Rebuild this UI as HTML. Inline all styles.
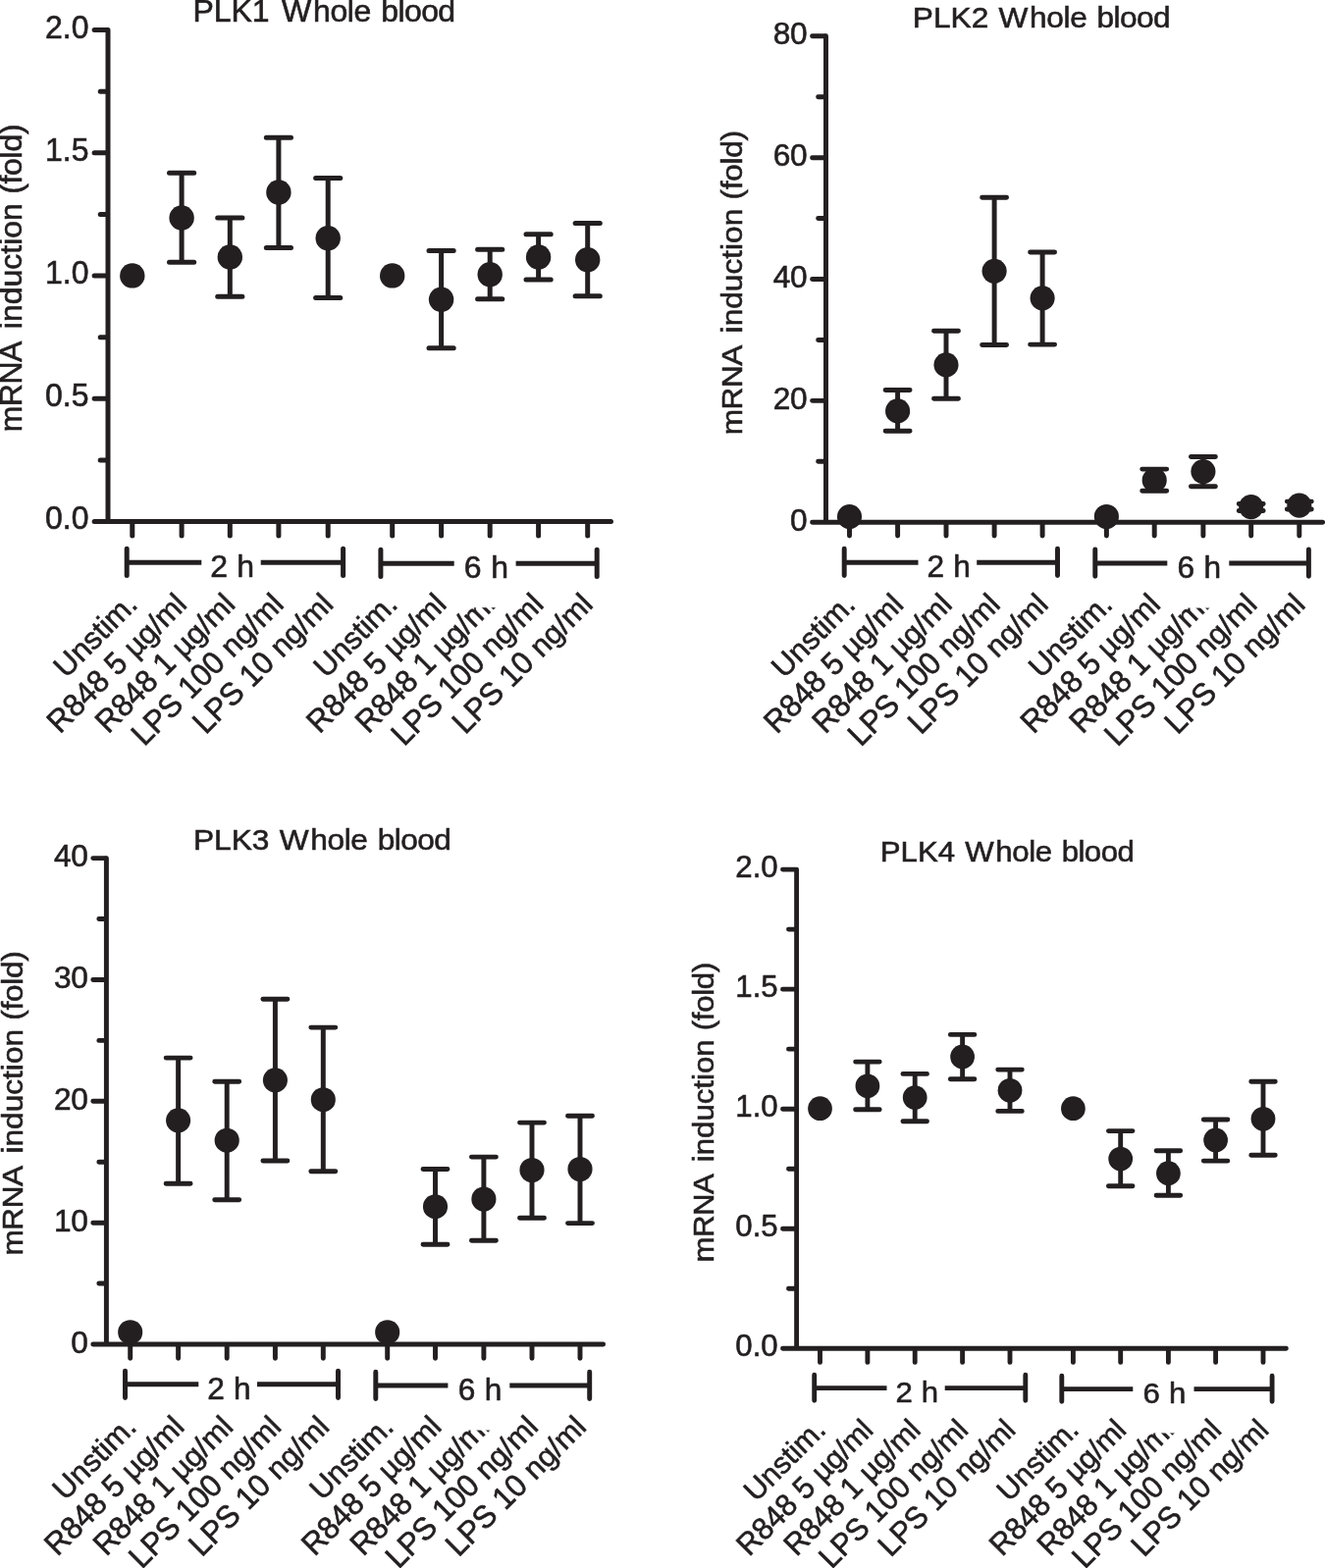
<!DOCTYPE html>
<html lang="en">
<head>
<meta charset="utf-8">
<title>PLK mRNA induction in whole blood</title>
<style>
html,body{margin:0;padding:0;background:#fff;}
body{width:1350px;height:1598px;overflow:hidden;}
svg{display:block;}
.t{font-family:"Liberation Sans",Arial,Helvetica,sans-serif;font-size:32px;fill:#231f20;}
.ln{fill:none;stroke:#231f20;stroke-width:5.0;stroke-linecap:round;stroke-linejoin:round;}
.bt{stroke-linecap:butt;}
.t{stroke:#231f20;stroke-width:0.6px;}
.t2{letter-spacing:-0.4px;}
circle{fill:#231f20;}
#p1 .t{font-size:32px;}#p1 .xl{font-size:31px;}#p1 .ln{stroke-width:5;}
#p2 .t{font-size:31.65px;}#p2 .xl{font-size:31px;}#p2 .ln{stroke-width:4.95;}
#p3 .t{font-size:31.65px;}#p3 .xl{font-size:31px;}#p3 .ln{stroke-width:4.95;}
#p4 .t{font-size:31.19px;}#p4 .xl{font-size:30.35px;}#p4 .ln{stroke-width:4.87;}
</style>
</head>
<body>
<svg width="1350" height="1598" viewBox="0 0 1350 1598">
<rect width="1350" height="1598" fill="#ffffff"/>
<g class="panel" id="p1">
<text class="t title" transform="translate(330 22.2) scale(1 0.96)" text-anchor="middle">PLK1 <tspan dx="3.5 2.07" letter-spacing="-0.37">Whole</tspan> <tspan dx="1.3" letter-spacing="-0.57">blood</tspan></text>
<text class="t ylab" transform="translate(22.4 283.5) rotate(-90) scale(1 0.96)" text-anchor="middle"><tspan letter-spacing="-0.5">mRNA</tspan> <tspan dx="4">induction</tspan> <tspan dx="0.4" letter-spacing="-0.3">(fold)</tspan></text>
<path class="ln" d="M110 30.6V531.5M96.1 531.5H622.5"/>
<path class="ln" d="M96.1 30.6H109M102.2 93.21H109M96.1 155.82H109M102.2 218.44H109M96.1 281.05H109M102.2 343.66H109M96.1 406.27H109M102.2 468.89H109M134.8 532.5V545.9M185.1 532.5V545.9M234.3 532.5V545.9M283.9 532.5V545.9M334.2 532.5V545.9M399.7 532.5V545.9M449.6 532.5V545.9M499.2 532.5V545.9M548.6 532.5V545.9M598.7 532.5V545.9"/>
<text class="t tick" transform="translate(90.5 38.5) scale(1 1.04)" text-anchor="end">2.0</text>
<text class="t tick" transform="translate(90.5 163.72) scale(1 1.04)" text-anchor="end">1.5</text>
<text class="t tick" transform="translate(90.5 288.95) scale(1 1.04)" text-anchor="end">1.0</text>
<text class="t tick" transform="translate(90.5 414.17) scale(1 1.04)" text-anchor="end">0.5</text>
<text class="t tick" transform="translate(90.5 539.4) scale(1 1.04)" text-anchor="end">0.0</text>
<path class="ln" d="M129.2 559.3V586.6M349.6 559.3V586.6M387.9 560.3V587.6M608.2 560.3V587.6"/>
<path class="ln bt" d="M129.2 573.3H205.3M265.7 573.3H349.6M387.9 574.3H462.7M525.6 574.3H608.2"/>
<text class="t br" transform="translate(236.7 588.4) scale(1 0.97)" text-anchor="middle">2 <tspan dx="0.4">h</tspan></text>
<text class="t br" transform="translate(495.35 589.4) scale(1 0.97)" text-anchor="middle">6 <tspan dx="0.7">h</tspan></text>
<path class="ln" d="M185.1 176.3V267.3M172.5 176.3H197.7M172.5 267.3H197.7M234.3 221.9V302.3M221.7 221.9H246.9M221.7 302.3H246.9M283.9 140.3V252.6M271.3 140.3H296.5M271.3 252.6H296.5M334.2 181.4V303.5M321.6 181.4H346.8M321.6 303.5H346.8M449.6 255.4V354.7M437 255.4H462.2M437 354.7H462.2M499.2 254.2V304.8M486.6 254.2H511.8M486.6 304.8H511.8M548.6 238.8V284.9M536 238.8H561.2M536 284.9H561.2M598.7 227.5V301.8M586.1 227.5H611.3M586.1 301.8H611.3"/>
<circle cx="134.8" cy="280.9" r="12.7"/>
<circle cx="185.1" cy="221.9" r="12.7"/>
<circle cx="234.3" cy="262" r="12.7"/>
<circle cx="283.9" cy="196" r="12.7"/>
<circle cx="334.2" cy="242.8" r="12.7"/>
<circle cx="399.7" cy="280.9" r="12.7"/>
<circle cx="449.6" cy="305.3" r="12.7"/>
<circle cx="499.2" cy="279.8" r="12.7"/>
<circle cx="548.6" cy="262" r="12.7"/>
<circle cx="598.7" cy="264.7" r="12.7"/>
<text class="t xl" transform="translate(141.6 617.6) rotate(-45)" text-anchor="end">Unstim.</text>
<text class="t xl" transform="translate(191.9 617.6) rotate(-45) translate(-85.04 0) scale(1 1.04)" text-anchor="end">R848 5</text>
<text class="t xl" transform="translate(191.9 617.6) rotate(-45) scale(1 0.985)" text-anchor="end">µg/ml</text>
<text class="t xl" transform="translate(241.1 617.6) rotate(-45) translate(-85.04 0) scale(1 1.04)" text-anchor="end">R848 1</text>
<text class="t xl" transform="translate(241.1 617.6) rotate(-45) scale(1 0.985)" text-anchor="end">µg/ml</text>
<text class="t xl" transform="translate(290.7 617.6) rotate(-45) translate(-84.42 0) scale(1 1.04)" text-anchor="end">LPS 100</text>
<text class="t xl" transform="translate(290.7 617.6) rotate(-45) scale(1 0.985)" text-anchor="end">ng/ml</text>
<text class="t xl" transform="translate(341 617.6) rotate(-45) translate(-84.42 0) scale(1 1.04)" text-anchor="end">LPS 10</text>
<text class="t xl" transform="translate(341 617.6) rotate(-45) scale(1 0.985)" text-anchor="end">ng/ml</text>
<text class="t xl" transform="translate(406.5 617.6) rotate(-45)" text-anchor="end">Unstim.</text>
<text class="t xl" transform="translate(456.4 617.6) rotate(-45) translate(-85.04 0) scale(1 1.04)" text-anchor="end">R848 5</text>
<text class="t xl" transform="translate(456.4 617.6) rotate(-45) scale(1 0.985)" text-anchor="end">µg/ml</text>
<text class="t xl" transform="translate(506 617.6) rotate(-45) translate(-85.04 0) scale(1 1.04)" text-anchor="end">R848 1</text>
<text class="t xl" transform="translate(506 617.6) rotate(-45) scale(1 0.985)" text-anchor="end">µg/ml</text>
<rect x="473.2" y="593.6" width="39" height="25.6" fill="#ffffff"/>
<text class="t xl" transform="translate(555.4 617.6) rotate(-45) translate(-84.42 0) scale(1 1.04)" text-anchor="end">LPS 100</text>
<text class="t xl" transform="translate(555.4 617.6) rotate(-45) scale(1 0.985)" text-anchor="end">ng/ml</text>
<text class="t xl" transform="translate(605.5 617.6) rotate(-45) translate(-84.42 0) scale(1 1.04)" text-anchor="end">LPS 10</text>
<text class="t xl" transform="translate(605.5 617.6) rotate(-45) scale(1 0.985)" text-anchor="end">ng/ml</text>
</g>
<g class="panel" id="p2">
<text class="t title" transform="translate(1061 28.1) scale(1 0.96)" text-anchor="middle">PLK2 <tspan dx="1.48 2.05" letter-spacing="-0.37">Whole</tspan> <tspan dx="1.29" letter-spacing="-0.56">blood</tspan></text>
<text class="t ylab" transform="translate(755.9 288.3) rotate(-90) scale(1 0.96)" text-anchor="middle"><tspan letter-spacing="-0.49">mRNA</tspan> <tspan dx="3.96">induction</tspan> <tspan dx="0.4" letter-spacing="-0.3">(fold)</tspan></text>
<path class="ln" d="M841.5 36.8V532.2M827.6 532.2H1347.6"/>
<path class="ln" d="M827.6 36.8H840.5M833.63 98.72H840.5M827.6 160.65H840.5M833.63 222.58H840.5M827.6 284.5H840.5M833.63 346.43H840.5M827.6 408.35H840.5M833.63 470.28H840.5M865.5 533.2V546.1M914.6 533.2V546.1M964 533.2V546.1M1013.1 533.2V546.1M1062.1 533.2V546.1M1127.4 533.2V546.1M1176.2 533.2V546.1M1225.9 533.2V546.1M1274.7 533.2V546.1M1323.8 533.2V546.1"/>
<text class="t tick t2" transform="translate(822.26 45.31) scale(1 1.02)" text-anchor="end">80</text>
<text class="t tick t2" transform="translate(822.26 169.16) scale(1 1.02)" text-anchor="end">60</text>
<text class="t tick t2" transform="translate(822.26 293.01) scale(1 1.02)" text-anchor="end">40</text>
<text class="t tick t2" transform="translate(822.26 416.86) scale(1 1.02)" text-anchor="end">20</text>
<text class="t tick" transform="translate(822.66 540.71) scale(1 1.02)" text-anchor="end">0</text>
<path class="ln" d="M860.2 559.3V586.6M1077.5 559.3V586.6M1115.8 560V587.3M1333.4 560V587.3"/>
<path class="ln bt" d="M860.2 573.3H935.5M995.2 573.3H1077.5M1115.8 574H1189.3M1252.3 574H1333.4"/>
<text class="t br" transform="translate(966.7 588.4) scale(1 0.97)" text-anchor="middle">2 <tspan dx="0.4">h</tspan></text>
<text class="t br" transform="translate(1221.85 589.1) scale(1 0.97)" text-anchor="middle">6 <tspan dx="0.69">h</tspan></text>
<path class="ln" d="M914.6 397.5V439.3M902.14 397.5H927.06M902.14 439.3H927.06M964 337.3V406.3M951.54 337.3H976.46M951.54 406.3H976.46M1013.1 201.3V351.4M1000.64 201.3H1025.56M1000.64 351.4H1025.56M1062.1 256.9V351.1M1049.64 256.9H1074.56M1049.64 351.1H1074.56M1176.2 478.1V500.3M1163.74 478.1H1188.66M1163.74 500.3H1188.66M1225.9 465.5V495.7M1213.44 465.5H1238.36M1213.44 495.7H1238.36M1274.7 513.4V520.4M1262.24 513.4H1287.16M1262.24 520.4H1287.16M1323.8 511.1V518.9M1311.34 511.1H1336.26M1311.34 518.9H1336.26"/>
<circle cx="865.5" cy="526.6" r="12.56"/>
<circle cx="914.6" cy="418.9" r="12.56"/>
<circle cx="964" cy="371.8" r="12.56"/>
<circle cx="1013.1" cy="276.3" r="12.56"/>
<circle cx="1062.1" cy="303.8" r="12.56"/>
<circle cx="1127.4" cy="526.5" r="12.56"/>
<circle cx="1176.2" cy="489.4" r="12.56"/>
<circle cx="1225.9" cy="480.6" r="12.56"/>
<circle cx="1274.7" cy="516.6" r="12.56"/>
<circle cx="1323.8" cy="515.1" r="12.56"/>
<text class="t xl" transform="translate(873.1 618) rotate(-45)" text-anchor="end">Unstim.</text>
<text class="t xl" transform="translate(922.2 618) rotate(-45) translate(-85.04 0) scale(1 1.04)" text-anchor="end">R848 5</text>
<text class="t xl" transform="translate(922.2 618) rotate(-45) scale(1 0.985)" text-anchor="end">µg/ml</text>
<text class="t xl" transform="translate(971.6 618) rotate(-45) translate(-85.04 0) scale(1 1.04)" text-anchor="end">R848 1</text>
<text class="t xl" transform="translate(971.6 618) rotate(-45) scale(1 0.985)" text-anchor="end">µg/ml</text>
<text class="t xl" transform="translate(1020.7 618) rotate(-45) translate(-84.42 0) scale(1 1.04)" text-anchor="end">LPS 100</text>
<text class="t xl" transform="translate(1020.7 618) rotate(-45) scale(1 0.985)" text-anchor="end">ng/ml</text>
<text class="t xl" transform="translate(1069.7 618) rotate(-45) translate(-84.42 0) scale(1 1.04)" text-anchor="end">LPS 10</text>
<text class="t xl" transform="translate(1069.7 618) rotate(-45) scale(1 0.985)" text-anchor="end">ng/ml</text>
<text class="t xl" transform="translate(1135 618) rotate(-45)" text-anchor="end">Unstim.</text>
<text class="t xl" transform="translate(1183.8 618) rotate(-45) translate(-85.04 0) scale(1 1.04)" text-anchor="end">R848 5</text>
<text class="t xl" transform="translate(1183.8 618) rotate(-45) scale(1 0.985)" text-anchor="end">µg/ml</text>
<text class="t xl" transform="translate(1233.5 618) rotate(-45) translate(-85.04 0) scale(1 1.04)" text-anchor="end">R848 1</text>
<text class="t xl" transform="translate(1233.5 618) rotate(-45) scale(1 0.985)" text-anchor="end">µg/ml</text>
<rect x="1200.19" y="594.26" width="38.57" height="25.32" fill="#ffffff"/>
<text class="t xl" transform="translate(1282.3 618) rotate(-45) translate(-84.42 0) scale(1 1.04)" text-anchor="end">LPS 100</text>
<text class="t xl" transform="translate(1282.3 618) rotate(-45) scale(1 0.985)" text-anchor="end">ng/ml</text>
<text class="t xl" transform="translate(1331.4 618) rotate(-45) translate(-84.42 0) scale(1 1.04)" text-anchor="end">LPS 10</text>
<text class="t xl" transform="translate(1331.4 618) rotate(-45) scale(1 0.985)" text-anchor="end">ng/ml</text>
</g>
<g class="panel" id="p3">
<text class="t title" transform="translate(328.1 865.6) scale(1 0.96)" text-anchor="middle">PLK3 <tspan dx="1.48 2.05" letter-spacing="-0.37">Whole</tspan> <tspan dx="1.29" letter-spacing="-0.56">blood</tspan></text>
<text class="t ylab" transform="translate(22.7 1124.5) rotate(-90) scale(1 0.96)" text-anchor="middle"><tspan letter-spacing="-0.49">mRNA</tspan> <tspan dx="3.96">induction</tspan> <tspan dx="0.4" letter-spacing="-0.3">(fold)</tspan></text>
<path class="ln" d="M108.4 874.6V1370M94.8 1370H614.6"/>
<path class="ln" d="M94.8 874.6H107.4M100.83 936.52H107.4M94.8 998.45H107.4M100.83 1060.38H107.4M94.8 1122.3H107.4M100.83 1184.22H107.4M94.8 1246.15H107.4M100.83 1308.08H107.4M132.7 1371V1384.2M181.6 1371V1384.2M231.2 1371V1384.2M280.4 1371V1384.2M329.3 1371V1384.2M394.7 1371V1384.2M443.5 1371V1384.2M492.9 1371V1384.2M542 1371V1384.2M591 1371V1384.2"/>
<text class="t tick t2" transform="translate(89.36 883.11) scale(1 1.02)" text-anchor="end">40</text>
<text class="t tick t2" transform="translate(89.36 1006.96) scale(1 1.02)" text-anchor="end">30</text>
<text class="t tick t2" transform="translate(89.36 1130.81) scale(1 1.02)" text-anchor="end">20</text>
<text class="t tick t2" transform="translate(89.36 1254.66) scale(1 1.02)" text-anchor="end">10</text>
<text class="t tick" transform="translate(89.76 1378.51) scale(1 1.02)" text-anchor="end">0</text>
<path class="ln" d="M127.5 1397.1V1424.4M344.5 1397.1V1424.4M382.8 1398.2V1425.5M600.7 1398.2V1425.5"/>
<path class="ln bt" d="M127.5 1410.8H202.3M262 1410.8H344.5M382.8 1411.9H456.4M519.3 1411.9H600.7"/>
<text class="t br" transform="translate(233.4 1426.3) scale(1 0.97)" text-anchor="middle">2 <tspan dx="0.4">h</tspan></text>
<text class="t br" transform="translate(488.95 1427.4) scale(1 0.97)" text-anchor="middle">6 <tspan dx="0.69">h</tspan></text>
<path class="ln" d="M181.6 1078.1V1206.3M169.14 1078.1H194.06M169.14 1206.3H194.06M231.2 1102.3V1222.7M218.74 1102.3H243.66M218.74 1222.7H243.66M280.4 1018.2V1182.9M267.94 1018.2H292.86M267.94 1182.9H292.86M329.3 1047.1V1193.7M316.84 1047.1H341.76M316.84 1193.7H341.76M443.5 1191.5V1268.3M431.04 1191.5H455.96M431.04 1268.3H455.96M492.9 1179.1V1264.3M480.44 1179.1H505.36M480.44 1264.3H505.36M542 1144.1V1241.3M529.54 1144.1H554.46M529.54 1241.3H554.46M591 1137.3V1246.6M578.54 1137.3H603.46M578.54 1246.6H603.46"/>
<circle cx="132.7" cy="1357.7" r="12.56"/>
<circle cx="181.6" cy="1141.8" r="12.56"/>
<circle cx="231.2" cy="1162.2" r="12.56"/>
<circle cx="280.4" cy="1100.8" r="12.56"/>
<circle cx="329.3" cy="1120.7" r="12.56"/>
<circle cx="394.7" cy="1357.7" r="12.56"/>
<circle cx="443.5" cy="1229.7" r="12.56"/>
<circle cx="492.9" cy="1222" r="12.56"/>
<circle cx="542" cy="1192.5" r="12.56"/>
<circle cx="591" cy="1191.5" r="12.56"/>
<text class="t xl" transform="translate(140.5 1456) rotate(-45)" text-anchor="end">Unstim.</text>
<text class="t xl" transform="translate(189.4 1456) rotate(-45) translate(-85.04 0) scale(1 1.04)" text-anchor="end">R848 5</text>
<text class="t xl" transform="translate(189.4 1456) rotate(-45) scale(1 0.985)" text-anchor="end">µg/ml</text>
<text class="t xl" transform="translate(239 1456) rotate(-45) translate(-85.04 0) scale(1 1.04)" text-anchor="end">R848 1</text>
<text class="t xl" transform="translate(239 1456) rotate(-45) scale(1 0.985)" text-anchor="end">µg/ml</text>
<text class="t xl" transform="translate(288.2 1456) rotate(-45) translate(-84.42 0) scale(1 1.04)" text-anchor="end">LPS 100</text>
<text class="t xl" transform="translate(288.2 1456) rotate(-45) scale(1 0.985)" text-anchor="end">ng/ml</text>
<text class="t xl" transform="translate(337.1 1456) rotate(-45) translate(-84.42 0) scale(1 1.04)" text-anchor="end">LPS 10</text>
<text class="t xl" transform="translate(337.1 1456) rotate(-45) scale(1 0.985)" text-anchor="end">ng/ml</text>
<text class="t xl" transform="translate(402.5 1456) rotate(-45)" text-anchor="end">Unstim.</text>
<text class="t xl" transform="translate(451.3 1456) rotate(-45) translate(-85.04 0) scale(1 1.04)" text-anchor="end">R848 5</text>
<text class="t xl" transform="translate(451.3 1456) rotate(-45) scale(1 0.985)" text-anchor="end">µg/ml</text>
<text class="t xl" transform="translate(500.7 1456) rotate(-45) translate(-85.04 0) scale(1 1.04)" text-anchor="end">R848 1</text>
<text class="t xl" transform="translate(500.7 1456) rotate(-45) scale(1 0.985)" text-anchor="end">µg/ml</text>
<rect x="467.19" y="1432.26" width="38.57" height="25.32" fill="#ffffff"/>
<text class="t xl" transform="translate(549.8 1456) rotate(-45) translate(-84.42 0) scale(1 1.04)" text-anchor="end">LPS 100</text>
<text class="t xl" transform="translate(549.8 1456) rotate(-45) scale(1 0.985)" text-anchor="end">ng/ml</text>
<text class="t xl" transform="translate(598.8 1456) rotate(-45) translate(-84.42 0) scale(1 1.04)" text-anchor="end">LPS 10</text>
<text class="t xl" transform="translate(598.8 1456) rotate(-45) scale(1 0.985)" text-anchor="end">ng/ml</text>
</g>
<g class="panel" id="p4">
<text class="t title" transform="translate(1026.01 878) scale(1 0.96)" text-anchor="middle">PLK4 <tspan dx="1.46 2.02" letter-spacing="-0.36">Whole</tspan> <tspan dx="1.27" letter-spacing="-0.56">blood</tspan></text>
<text class="t ylab" transform="translate(726.5 1133.8) rotate(-90) scale(1 0.96)" text-anchor="middle"><tspan letter-spacing="-0.49">mRNA</tspan> <tspan dx="3.9">induction</tspan> <tspan dx="0.39" letter-spacing="-0.29">(fold)</tspan></text>
<path class="ln" d="M811.6 886.1V1374.3M797.5 1374.3H1310.4"/>
<path class="ln" d="M797.5 886.1H810.6M803.45 947.12H810.6M797.5 1008.15H810.6M803.45 1069.17H810.6M797.5 1130.2H810.6M803.45 1191.23H810.6M797.5 1252.25H810.6M803.45 1313.28H810.6M835.5 1375.3V1388.4M883.9 1375.3V1388.4M932.2 1375.3V1388.4M980.6 1375.3V1388.4M1029 1375.3V1388.4M1093.4 1375.3V1388.4M1141.7 1375.3V1388.4M1190.4 1375.3V1388.4M1238.6 1375.3V1388.4M1287 1375.3V1388.4"/>
<text class="t tick" transform="translate(792.64 894.1)" text-anchor="end">2.0</text>
<text class="t tick" transform="translate(792.64 1016.15)" text-anchor="end">1.5</text>
<text class="t tick" transform="translate(792.64 1138.2)" text-anchor="end">1.0</text>
<text class="t tick" transform="translate(792.64 1260.25)" text-anchor="end">0.5</text>
<text class="t tick" transform="translate(792.64 1382.3)" text-anchor="end">0.0</text>
<path class="ln" d="M829.7 1401.3V1427.2M1044.8 1401.3V1427.2M1081.8 1402.3V1428.2M1296.1 1402.3V1428.2"/>
<path class="ln bt" d="M829.7 1414.6H903.5M962.7 1414.6H1044.8M1081.8 1415.6H1154.3M1216.5 1415.6H1296.1"/>
<text class="t br" transform="translate(934.29 1429.4) scale(1 0.97)" text-anchor="middle">2 <tspan dx="0.39">h</tspan></text>
<text class="t br" transform="translate(1186.44 1430.4) scale(1 0.97)" text-anchor="middle">6 <tspan dx="0.68">h</tspan></text>
<path class="ln" d="M883.9 1082.1V1130.7M871.62 1082.1H896.18M871.62 1130.7H896.18M932.2 1094.4V1142.8M919.92 1094.4H944.48M919.92 1142.8H944.48M980.6 1054.4V1099.7M968.32 1054.4H992.88M968.32 1099.7H992.88M1029 1090.1V1132.4M1016.72 1090.1H1041.28M1016.72 1132.4H1041.28M1141.7 1152.6V1208.8M1129.42 1152.6H1153.98M1129.42 1208.8H1153.98M1190.4 1172.7V1218.3M1178.12 1172.7H1202.68M1178.12 1218.3H1202.68M1238.6 1141V1183.1M1226.32 1141H1250.88M1226.32 1183.1H1250.88M1287 1102.2V1177.3M1274.72 1102.2H1299.28M1274.72 1177.3H1299.28"/>
<circle cx="835.5" cy="1129.7" r="12.38"/>
<circle cx="883.9" cy="1106.8" r="12.38"/>
<circle cx="932.2" cy="1118.6" r="12.38"/>
<circle cx="980.6" cy="1077" r="12.38"/>
<circle cx="1029" cy="1111.3" r="12.38"/>
<circle cx="1093.4" cy="1129.7" r="12.38"/>
<circle cx="1141.7" cy="1181.1" r="12.38"/>
<circle cx="1190.4" cy="1195.7" r="12.38"/>
<circle cx="1238.6" cy="1161.9" r="12.38"/>
<circle cx="1287" cy="1140.3" r="12.38"/>
<text class="t xl" transform="translate(842.9 1458.9) rotate(-45)" text-anchor="end">Unstim.</text>
<text class="t xl" transform="translate(891.3 1458.9) rotate(-45) translate(-83.26 0) scale(1 1.04)" text-anchor="end">R848 5</text>
<text class="t xl" transform="translate(891.3 1458.9) rotate(-45) scale(1 0.985)" text-anchor="end">µg/ml</text>
<text class="t xl" transform="translate(939.6 1458.9) rotate(-45) translate(-83.26 0) scale(1 1.04)" text-anchor="end">R848 1</text>
<text class="t xl" transform="translate(939.6 1458.9) rotate(-45) scale(1 0.985)" text-anchor="end">µg/ml</text>
<text class="t xl" transform="translate(988 1458.9) rotate(-45) translate(-82.65 0) scale(1 1.04)" text-anchor="end">LPS 100</text>
<text class="t xl" transform="translate(988 1458.9) rotate(-45) scale(1 0.985)" text-anchor="end">ng/ml</text>
<text class="t xl" transform="translate(1036.4 1458.9) rotate(-45) translate(-82.65 0) scale(1 1.04)" text-anchor="end">LPS 10</text>
<text class="t xl" transform="translate(1036.4 1458.9) rotate(-45) scale(1 0.985)" text-anchor="end">ng/ml</text>
<text class="t xl" transform="translate(1100.8 1458.9) rotate(-45)" text-anchor="end">Unstim.</text>
<text class="t xl" transform="translate(1149.1 1458.9) rotate(-45) translate(-83.26 0) scale(1 1.04)" text-anchor="end">R848 5</text>
<text class="t xl" transform="translate(1149.1 1458.9) rotate(-45) scale(1 0.985)" text-anchor="end">µg/ml</text>
<text class="t xl" transform="translate(1197.8 1458.9) rotate(-45) translate(-83.26 0) scale(1 1.04)" text-anchor="end">R848 1</text>
<text class="t xl" transform="translate(1197.8 1458.9) rotate(-45) scale(1 0.985)" text-anchor="end">µg/ml</text>
<rect x="1165.06" y="1435.51" width="38.01" height="24.95" fill="#ffffff"/>
<text class="t xl" transform="translate(1246 1458.9) rotate(-45) translate(-82.65 0) scale(1 1.04)" text-anchor="end">LPS 100</text>
<text class="t xl" transform="translate(1246 1458.9) rotate(-45) scale(1 0.985)" text-anchor="end">ng/ml</text>
<text class="t xl" transform="translate(1294.4 1458.9) rotate(-45) translate(-82.65 0) scale(1 1.04)" text-anchor="end">LPS 10</text>
<text class="t xl" transform="translate(1294.4 1458.9) rotate(-45) scale(1 0.985)" text-anchor="end">ng/ml</text>
</g>
</svg>
</body>
</html>
